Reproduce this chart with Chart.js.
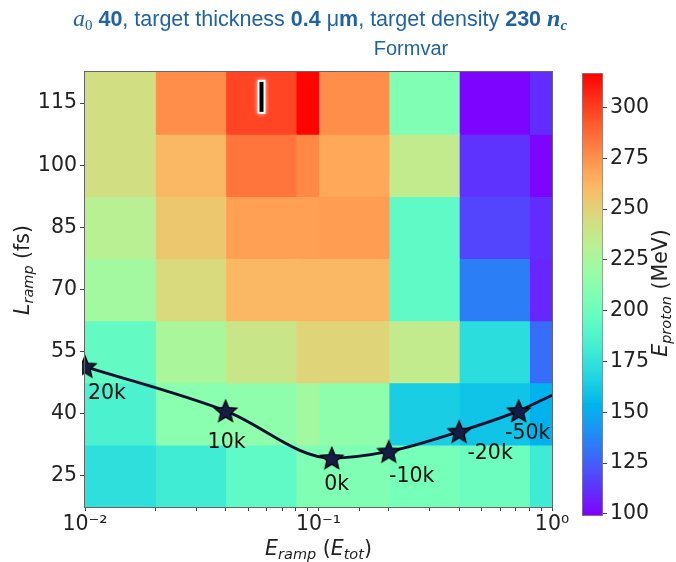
<!DOCTYPE html>
<html>
<head>
<meta charset="utf-8">
<script src="https://cdn.jsdelivr.net/npm/chart.js@4.4.1/dist/chart.umd.min.js"></script>
<style>
  body { margin: 0; background: #fff; }
  #wrap { position: relative; width: 676px; height: 562px; }
  #main { position: absolute; left: 0; top: 0; }
  #cbar { position: absolute; left: 560px; top: 50px; }
</style>
</head>
<body>
<div id="wrap">
  <canvas id="main" width="676" height="562"></canvas>
  <canvas id="cbar" width="116" height="490"></canvas>
</div>
<script>
// ramp energy bin edges (E_tot fraction) and ramp lengths (fs)
const eRampEdges = [0.01, 0.02, 0.04, 0.08, 0.1, 0.2, 0.4, 0.8, 1];
const lRamp = [25, 40, 55, 70, 85, 100, 115];

// max proton energy (MeV), one row per ramp length, one value per energy bin
const eProtonL25 = [173, 181, 194, 208, 208, 204, 200, 180];
const eProtonL40 = [186, 212, 214, 223, 214, 164, 160, 153];
const eProtonL55 = [196, 226, 239, 249, 249, 236, 172, 130];
const eProtonL70 = [223, 246, 261, 261, 261, 194, 135, 109];
const eProtonL85 = [232, 255, 270, 270, 271, 194, 118, 111];
const eProtonL100 = [243, 261, 284, 278, 267, 236, 113, 100];
const eProtonL115 = [243, 276, 298, 316, 276, 208, 100, 111];
const eProtonRows = [eProtonL25, eProtonL40, eProtonL55, eProtonL70, eProtonL85, eProtonL100, eProtonL115];

// fitted curve through the labelled runs (last point only ends the curve)
const curveX = [0.01, 0.04, 0.114, 0.2, 0.4, 0.72, 1.0];
const curveY = [51.4, 40.7, 29.3, 30.9, 35.7, 40.7, 44.5];
const curveLabels = ['20k', '10k', '0k', '-10k', '-20k', '-50k', ''];

// best-run marker
const markerX = [0.057];
const markerY = [116.5];

const cbTicks = [100, 125, 150, 175, 200, 225, 250, 275, 300];
const cbMin = 99;
const cbMax = 317;

// label offsets from each star, px
const labelOffsets = [[22, 27], [1, 32], [5, 27], [23, 25], [31, 22], [9, 23]];

const TITLE_BLUE = '#1f62a6';
const SANS = '"DejaVu Sans"';

// matplotlib 'rainbow' colormap
function rainbow(t) {
    t = Math.min(1, Math.max(0, t));
    const cl = v => Math.round(Math.min(1, Math.max(0, v)) * 255);
    const r = Math.abs(2 * t - 0.5);
    const g = Math.sin(Math.PI * t);
    const b = Math.cos(Math.PI * t / 2);
    return 'rgb(' + cl(r) + ',' + cl(g) + ',' + cl(b) + ')';
}

function makeStar(size) {
    const c = document.createElement('canvas');
    c.width = c.height = size;
    const g = c.getContext('2d');
    const R = size / 2 - 1.2, r = R * 0.45;
    g.beginPath();
    for (let i = 0; i < 10; i++) {
        const a = -Math.PI / 2 + i * Math.PI / 5;
        const rad = i % 2 ? r : R;
        g.lineTo(size / 2 + rad * Math.cos(a), size / 2 + rad * Math.sin(a) + 1);
    }
    g.closePath();
    g.fillStyle = '#141d45';
    g.fill();
    g.lineWidth = 1.2;
    g.strokeStyle = '#000';
    g.stroke();
    return c;
}

function makeBarMarker() {
    const c = document.createElement('canvas');
    c.width = 16;
    c.height = 42;
    const g = c.getContext('2d');
    g.shadowColor = 'rgba(255,220,220,1)';
    g.shadowBlur = 4;
    g.fillStyle = '#fff';
    g.fillRect(4, 4, 8, 34);
    g.shadowBlur = 0;
    g.fillStyle = '#000';
    g.fillRect(6, 6, 4, 30);
    return c;
}

// draws a run of differently styled text pieces centred on cx, baseline at cy
function drawRich(ctx, parts, cx, cy, angle, color) {
    ctx.save();
    ctx.translate(cx, cy);
    ctx.rotate(angle);
    ctx.fillStyle = color;
    ctx.textBaseline = 'alphabetic';
    ctx.textAlign = 'left';
    let total = 0;
    parts.forEach(p => { ctx.font = p.font; p.w = ctx.measureText(p.text).width; total += p.w; });
    let x = -total / 2;
    parts.forEach(p => {
        ctx.font = p.font;
        ctx.fillText(p.text, x, p.dy || 0);
        x += p.w;
    });
    ctx.restore();
}

const sup = { '-': '\u207B', '0': '\u2070', '1': '\u00B9', '2': '\u00B2', '3': '\u00B3' };
function powLabel(value) {
    const e = Math.log10(value);
    if (Math.abs(e - Math.round(e)) > 1e-9) return '';
    return '10' + String(Math.round(e)).split('').map(ch => sup[ch]).join('');
}

const starImg = makeStar(26);
const barImg = makeBarMarker();

// one floating-bar dataset per energy bin
const columnSets = eRampEdges.slice(0, -1).map((x0, c) => ({
    type: 'bar',
    indexAxis: 'y',
    data: lRamp.map(l => ({ y: l, x: [x0, eRampEdges[c + 1]] })),
    backgroundColor: lRamp.map((l, r) => rainbow((eProtonRows[r][c] - cbMin) / (cbMax - cbMin))),
    borderWidth: 0,
    barPercentage: 1,
    categoryPercentage: 1,
    grouped: false,
    inflateAmount: 0.6,
    order: 3
}));

const frame = {
    id: 'frame',
    afterDatasetsDraw(chart) {
        const { ctx, chartArea: a } = chart;
        ctx.save();
        ctx.strokeStyle = '#666';
        ctx.lineWidth = 1;
        ctx.strokeRect(Math.round(a.left) - 0.5, Math.round(a.top) - 0.5,
            Math.round(a.right - a.left) + 1, Math.round(a.bottom - a.top) + 1);
        ctx.restore();
    }
};

const starLabels = {
    id: 'starLabels',
    afterDatasetsDraw(chart) {
        const ctx = chart.ctx;
        const meta = chart.getDatasetMeta(columnSets.length);
        ctx.save();
        ctx.font = '20.5px ' + SANS;
        ctx.fillStyle = '#111';
        ctx.textAlign = 'center';
        ctx.textBaseline = 'middle';
        meta.data.forEach((pt, i) => {
            if (!curveLabels[i]) return;
            ctx.fillText(curveLabels[i], pt.x + labelOffsets[i][0], pt.y + labelOffsets[i][1]);
        });
        ctx.restore();
    }
};

const titles = {
    id: 'titles',
    afterDraw(chart) {
        const ctx = chart.ctx;
        const a = chart.chartArea;
        const reg = '21.5px "Liberation Sans"';
        const bold = 'bold 21.5px "Liberation Sans"';
        drawRich(ctx, [
            { text: 'a', font: 'italic 24px "Liberation Serif"' },
            { text: '0', font: '15px "Liberation Serif"', dy: 4 },
            { text: ' 40', font: bold },
            { text: ', target thickness ', font: reg },
            { text: '0.4', font: bold },
            { text: ' \u03BC', font: reg },
            { text: 'm', font: bold },
            { text: ', target density ', font: reg },
            { text: '230', font: bold },
            { text: ' ', font: reg },
            { text: 'n', font: 'bold italic 24px "Liberation Serif"' },
            { text: 'c', font: 'bold italic 15px "Liberation Serif"', dy: 4 }
        ], 320, 26, 0, TITLE_BLUE);
        drawRich(ctx, [{ text: 'Formvar', font: '20px "Liberation Sans"' }], 411, 55, 0, TITLE_BLUE);

        const it = 'italic 20.5px ' + SANS;
        const itSub = 'italic 14.5px ' + SANS;
        const up = '20.5px ' + SANS;
        drawRich(ctx, [
            { text: 'E', font: it },
            { text: 'ramp', font: itSub, dy: 4 },
            { text: ' (', font: up },
            { text: 'E', font: it },
            { text: 'tot', font: itSub, dy: 4 },
            { text: ')', font: up }
        ], (a.left + a.right) / 2, 555, 0, '#222');
        drawRich(ctx, [
            { text: 'L', font: it },
            { text: 'ramp', font: itSub, dy: 4 },
            { text: ' (fs)', font: up }
        ], 29, 270, -Math.PI / 2, '#222');
    }
};

new Chart(document.getElementById('main'), {
    type: 'bar',
    data: {
        datasets: [
            ...columnSets,
            {
                type: 'line',
                indexAxis: 'x',
                data: curveX.map((x, i) => ({ x, y: curveY[i] })),
                borderColor: '#0b1030',
                borderWidth: 2.8,
                cubicInterpolationMode: 'monotone',
                fill: false,
                pointStyle: starImg,
                pointRadius: curveLabels.map(t => (t ? 10 : 0)),
                clip: { left: 3, top: 0, right: 0, bottom: 0 },
                order: 1
            },
            {
                type: 'scatter',
                indexAxis: 'x',
                data: markerX.map((x, i) => ({ x, y: markerY[i] })),
                pointStyle: barImg,
                pointRadius: 5,
                order: 0
            }
        ]
    },
    options: {
        responsive: false,
        animation: false,
        devicePixelRatio: 1,
        layout: { padding: { left: 0, right: 124, top: 72, bottom: 0 } },
        plugins: { legend: { display: false }, tooltip: { enabled: false } },
        scales: {
            x: {
                type: 'logarithmic',
                min: 0.01,
                max: 1,
                offset: false,
                afterFit: s => { s.height = 55; },
                grid: { drawOnChartArea: false, tickLength: 4, color: '#444', offset: false },
                border: { display: false },
                ticks: {
                    autoSkip: false,
                    maxRotation: 0,
                    padding: 1,
                    color: '#222',
                    font: { family: 'DejaVu Sans', size: 20.5 },
                    callback: v => powLabel(v)
                }
            },
            y: {
                type: 'linear',
                min: 17.5,
                max: 122.5,
                offset: false,
                beginAtZero: false,
                afterBuildTicks: s => { s.ticks = lRamp.map(v => ({ value: v })); },
                afterFit: s => { s.width = 85; },
                grid: { drawOnChartArea: false, tickLength: 5, color: '#444', offset: false },
                border: { display: false },
                ticks: { padding: 3, color: '#222', font: { family: 'DejaVu Sans', size: 20.5 } }
            }
        }
    },
    plugins: [frame, starLabels, titles]
});

// colour bar
const cbTitle = {
    id: 'cbTitle',
    afterDraw(chart) {
        drawRich(chart.ctx, [
            { text: 'E', font: 'italic 20.5px ' + SANS },
            { text: 'proton', font: 'italic 14.5px ' + SANS, dy: 4 },
            { text: ' (MeV)', font: '20.5px ' + SANS }
        ], 107, 243, -Math.PI / 2, '#222');
    }
};

new Chart(document.getElementById('cbar'), {
    type: 'bar',
    data: {
        labels: [''],
        datasets: [{
            data: [[cbMin, cbMax]],
            backgroundColor: ctx => {
                const area = ctx.chart.chartArea;
                if (!area) return '#888';
                const grad = ctx.chart.ctx.createLinearGradient(0, area.bottom, 0, area.top);
                for (let i = 0; i <= 40; i++) grad.addColorStop(i / 40, rainbow(i / 40));
                return grad;
            },
            borderColor: '#888',
            borderWidth: 1,
            borderSkipped: false,
            barPercentage: 1,
            categoryPercentage: 1
        }]
    },
    options: {
        responsive: false,
        animation: false,
        devicePixelRatio: 1,
        layout: { padding: { left: 22, right: 0, top: 23, bottom: 24 } },
        plugins: { legend: { display: false }, tooltip: { enabled: false } },
        scales: {
            x: { display: false },
            y: {
                position: 'right',
                min: cbMin,
                max: cbMax,
                beginAtZero: false,
                afterBuildTicks: s => { s.ticks = cbTicks.map(v => ({ value: v })); },
                afterFit: s => { s.width = 73; },
                grid: { drawOnChartArea: false, tickLength: 4, color: '#444' },
                border: { display: false },
                ticks: { padding: 3, color: '#222', font: { family: 'DejaVu Sans', size: 20.5 } }
            }
        }
    },
    plugins: [cbTitle]
});
</script>
</body>
</html>
